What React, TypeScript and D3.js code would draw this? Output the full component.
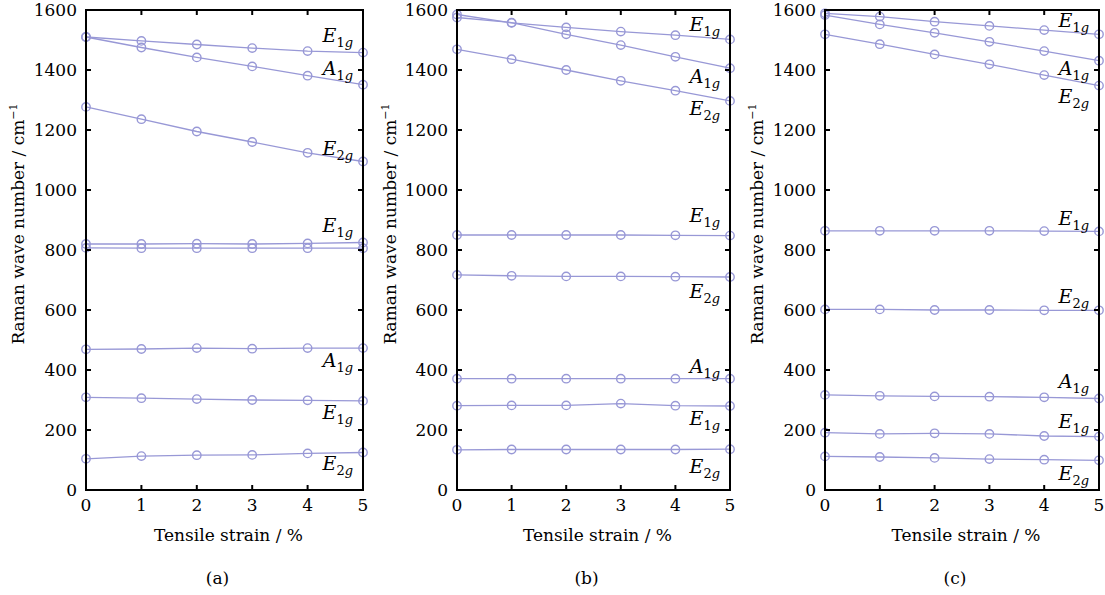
import React from "react";
import * as d3 from "d3";

const strain = [0, 1, 2, 3, 4, 5];
const yTicks = [0, 200, 400, 600, 800, 1000, 1200, 1400, 1600];

// Panel (a)
const aE1gHigh = [1510, 1497, 1485, 1473, 1463, 1458];
const aA1gHigh = [1510, 1475, 1442, 1412, 1381, 1351];
const aE2gHigh = [1277, 1236, 1195, 1160, 1124, 1095];
const aE1gMidA = [820, 820, 821, 820, 822, 825];
const aE1gMidB = [807, 806, 806, 806, 806, 806];
const aA1gLow = [469, 470, 473, 471, 473, 473];
const aE1gLow = [309, 306, 303, 300, 299, 297];
const aE2gLow = [104, 113, 116, 117, 122, 125];

// Panel (b)
const bE1gHigh = [1585, 1557, 1542, 1528, 1516, 1502];
const bA1gHigh = [1575, 1558, 1519, 1483, 1444, 1406];
const bE2gHigh = [1469, 1436, 1400, 1364, 1331, 1297];
const bE1gMid = [850, 850, 850, 850, 849, 848];
const bE2gMid = [717, 714, 712, 712, 711, 710];
const bA1gLow = [371, 371, 371, 371, 371, 371];
const bE1gLow = [281, 282, 282, 288, 281, 280];
const bE2gLow = [134, 135, 135, 135, 135, 136];

// Panel (c)
const cE1gHigh = [1589, 1578, 1561, 1547, 1533, 1519];
const cA1gHigh = [1583, 1552, 1524, 1494, 1463, 1431];
const cE2gHigh = [1519, 1486, 1452, 1419, 1383, 1348];
const cE1gMid = [864, 864, 864, 864, 863, 862];
const cE2gMid = [602, 602, 600, 600, 599, 599];
const cA1gLow = [317, 314, 312, 311, 309, 305];
const cE1gLow = [191, 187, 189, 187, 180, 178];
const cE2gLow = [112, 110, 107, 103, 101, 99];

// Mode labels: [letter, subscript index, value at label baseline]
const aLabels: [string, string, number][] = [
  ["E", "1", 1493], ["A", "1", 1383], ["E", "2", 1117], ["E", "1", 860],
  ["A", "1", 410], ["E", "1", 237], ["E", "2", 67],
];
const bLabels: [string, string, number][] = [
  ["E", "1", 1530], ["A", "1", 1357], ["E", "2", 1250], ["E", "1", 893],
  ["E", "2", 640], ["A", "1", 390], ["E", "1", 217], ["E", "2", 57],
];
const cLabels: [string, string, number][] = [
  ["E", "1", 1543], ["A", "1", 1383], ["E", "2", 1290], ["E", "1", 883],
  ["E", "2", 623], ["A", "1", 340], ["E", "1", 207], ["E", "2", 33],
];

const panelNames = ["(a)", "(b)", "(c)"];
const xTitle = "Tensile strain / %";

const COLOR = "#9898d6";
const FONT = "'DejaVu Serif', 'Liberation Serif', serif";

type PanelProps = {
  x0: number; x1: number; yLabelX: number;
  series: number[][]; labels: [string, string, number][]; name: string;
};

function Panel({ x0, x1, yLabelX, series, labels, name }: PanelProps) {
  const x = d3.scaleLinear().domain([0, 5]).range([x0, x1]);
  const y = d3.scaleLinear().domain([0, 1600]).range([490, 10]);
  const line = d3.line<number>().x((_, i) => x(strain[i])).y((d) => y(d));
  const cx = (x0 + x1) / 2;
  const tick = 5;
  const ts = { fontFamily: FONT };
  return (
    <g>
      {series.map((s, si) => (
        <g key={si}>
          <path d={line(s) || ""} fill="none" stroke={COLOR} strokeWidth={1.3} />
          {s.map((v, i) => (
            <circle key={i} cx={x(strain[i])} cy={y(v)} r={4.2} fill="none" stroke={COLOR} strokeWidth={1.4} />
          ))}
        </g>
      ))}
      <rect x={x0} y={y(1600)} width={x1 - x0} height={y(0) - y(1600)} fill="none" stroke="#000" strokeWidth={2} />
      {yTicks.slice(1, -1).map((t) => (
        <g key={t}>
          <line x1={x0} x2={x0 + tick} y1={y(t)} y2={y(t)} stroke="#000" strokeWidth={2} />
          <line x1={x1} x2={x1 - tick} y1={y(t)} y2={y(t)} stroke="#000" strokeWidth={2} />
        </g>
      ))}
      {strain.slice(1, -1).map((t) => (
        <g key={t}>
          <line x1={x(t)} x2={x(t)} y1={y(0)} y2={y(0) - tick} stroke="#000" strokeWidth={2} />
          <line x1={x(t)} x2={x(t)} y1={y(1600)} y2={y(1600) + tick} stroke="#000" strokeWidth={2} />
        </g>
      ))}
      {yTicks.map((t) => (
        <text key={t} style={ts} x={x0 - 9} y={y(t)} dy="0.35em" textAnchor="end" fontSize={17}>{t}</text>
      ))}
      {strain.map((t) => (
        <text key={t} style={ts} x={x(t)} y={y(0) + 21} textAnchor="middle" fontSize={17}>{t}</text>
      ))}
      <text style={ts} x={cx + 4} y={535} dy="0.35em" textAnchor="middle" fontSize={17}>{xTitle}</text>
      <text style={ts} x={cx - 7} y={578} dy="0.35em" textAnchor="middle" fontSize={17}>{name}</text>
      <text style={ts} transform={`translate(${yLabelX},224) rotate(-90)`} textAnchor="middle" fontSize={17} dy="0.35em">
        Raman wave number / cm<tspan fontSize={11} dy="-7">−1</tspan>
      </text>
      {labels.map(([l, n, v], i) => (
        <text key={i} style={ts} x={x1 - 10} y={y(v)} textAnchor="end" fontSize={19} fontStyle="italic">
          {l}
          <tspan fontSize={13} fontStyle="normal" dy="5">{n}</tspan>
          <tspan fontSize={13} dy="0">g</tspan>
        </text>
      ))}
    </g>
  );
}

export default function App() {
  return (
    <svg width={1105} height={595} style={{ position: "absolute", left: 0, top: 0, background: "#fff" }}>
      <Panel x0={86} x1={363} yLabelX={18} name={panelNames[0]} labels={aLabels}
        series={[aE1gHigh, aA1gHigh, aE2gHigh, aE1gMidA, aE1gMidB, aA1gLow, aE1gLow, aE2gLow]} />
      <Panel x0={457} x1={730} yLabelX={390} name={panelNames[1]} labels={bLabels}
        series={[bE1gHigh, bA1gHigh, bE2gHigh, bE1gMid, bE2gMid, bA1gLow, bE1gLow, bE2gLow]} />
      <Panel x0={825} x1={1099} yLabelX={757} name={panelNames[2]} labels={cLabels}
        series={[cE1gHigh, cA1gHigh, cE2gHigh, cE1gMid, cE2gMid, cA1gLow, cE1gLow, cE2gLow]} />
    </svg>
  );
}
